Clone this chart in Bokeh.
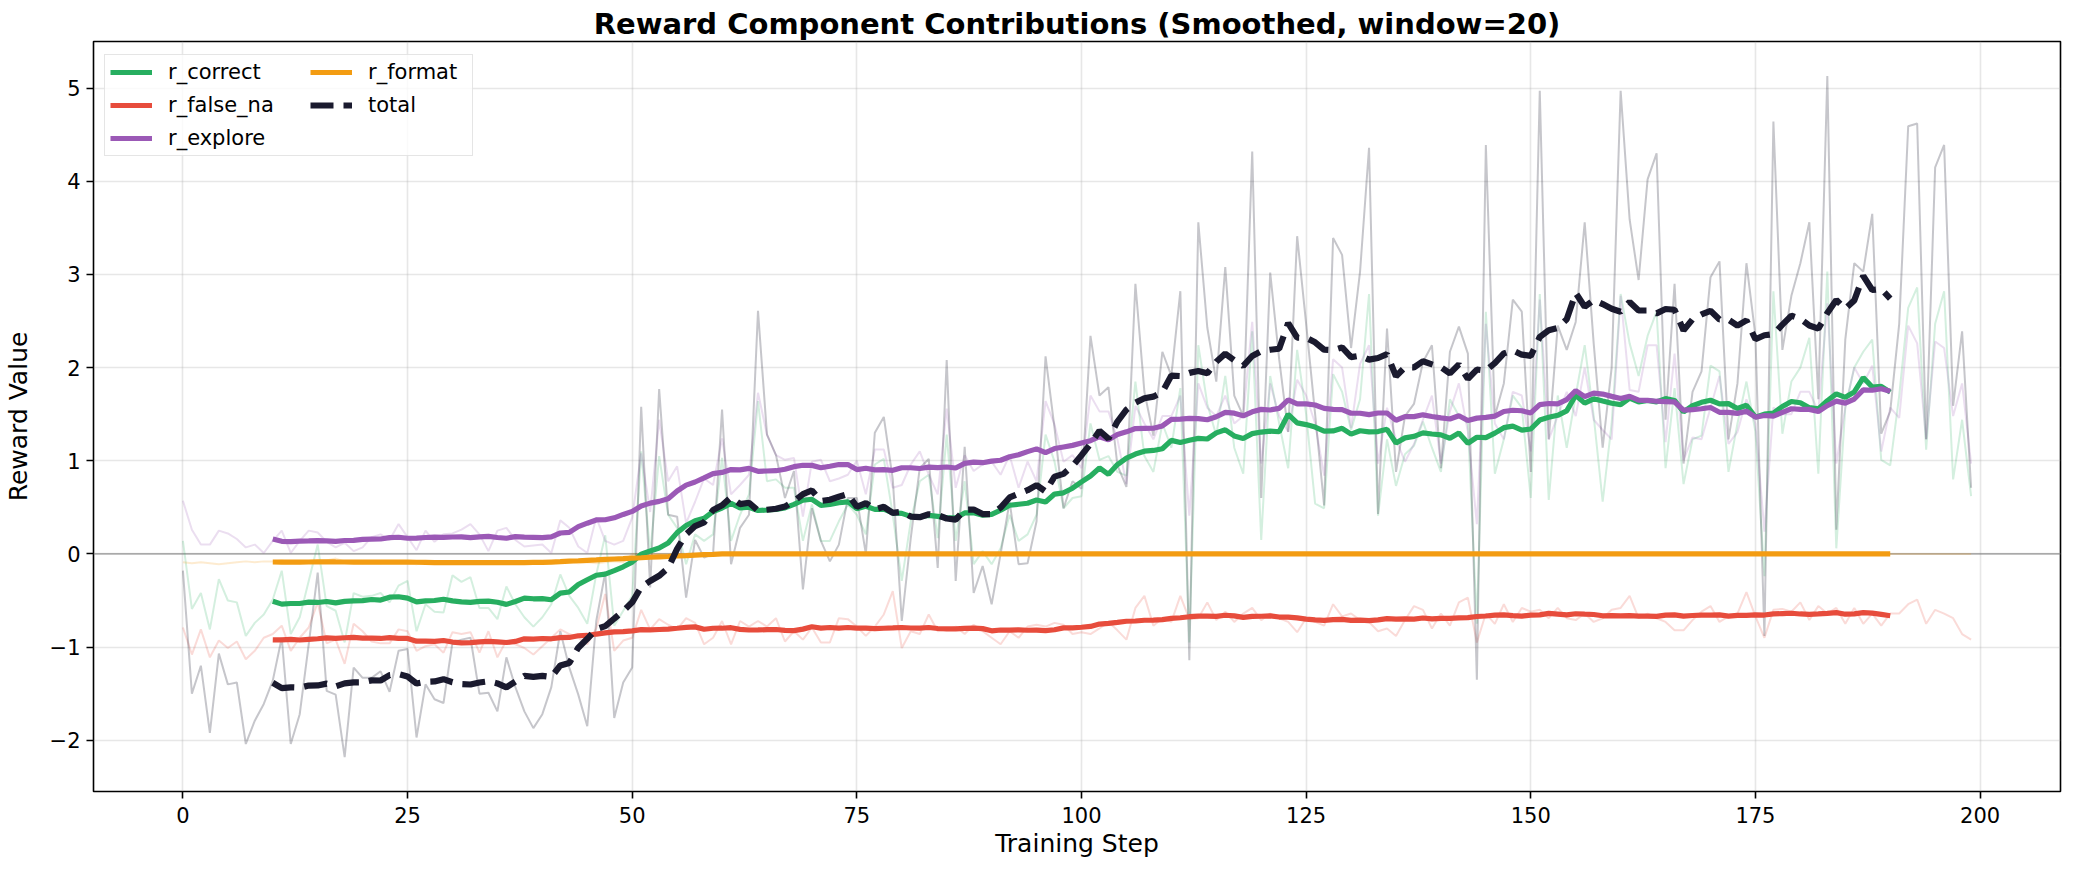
import numpy as np
from bokeh.plotting import figure
from bokeh.models import (Span, Legend, LegendItem, FixedTicker, CustomJSTickFormatter, Range1d, Title)
from bokeh.embed import file_html
from bokeh.resources import INLINE

# ---------------- data ----------------
steps = list(range(200))
WINDOW = 20

r_correct = [
    0.14, -0.59, -0.42, -0.81, -0.27, -0.5, -0.52, -0.88, -0.74, -0.65,
    -0.49, -0.18, -0.86, -0.68, -0.29, 0.1, -0.56, -0.61, -0.95, -0.42,
    -0.46, -0.45, -0.42, -0.52, -0.34, -0.29, -0.83, -0.54, -0.62, -0.63,
    -0.23, -0.3, -0.25, -0.58, -0.58, -0.7, -0.35, -0.54, -0.68, -0.78,
    -0.68, -0.54, -0.22, -0.45, -0.58, -0.75, -0.22, 0.2, -0.77, -0.61,
    -0.45, 1.1, 0.0, 1.05, 0.42, 0.28, -0.11, 0.21, 0.14, 0.21,
    1.03, 0.14, 0.42, 0.64, 1.64, 0.78, 0.8, 0.71, 0.71, 0.14,
    0.53, 0.14, 0.14, 0.35, 0.53, 0.42, 0.21, 0.96, 1.02, 0.42,
    -0.29, 0.35, 0.78, 0.85, 0.17, 1.28, 0.14, 0.78, -0.11, 0.03,
    -0.11, 0.06, 0.42, 0.14, 0.21, 0.42, 1.28, 0.99, 0.49, 0.6,
    0.62, 1.4, 1.01, 1.05, 0.88, 0.84, 1.85, 1.05, 0.88, 1.4,
    1.14, 1.78, -0.95, 2.24, 1.61, 1.27, 1.91, 1.14, 0.86, 2.39,
    0.15, 1.91, 1.4, 0.92, 2.19, 1.5, 0.54, 0.49, 1.93, 1.74,
    1.33, 1.66, 2.79, 0.41, 1.23, 0.73, 1.07, 1.16, 1.42, 1.14,
    0.88, 1.66, 1.48, 1.4, -0.75, 2.6, 0.86, 1.23, 1.7, 1.57,
    0.6, 2.79, 0.58, 1.7, 1.14, 1.7, 2.24, 1.48, 0.56, 1.4,
    2.79, 2.26, 1.91, 2.34, 2.6, 0.92, 1.78, 0.75, 1.23, 1.27,
    2.02, 1.96, 0.88, 1.4, 1.85, 1.31, -0.24, 2.82, 1.29, 1.85,
    2.0, 2.32, 0.86, 3.03, 0.06, 1.57, 2.0, 2.17, 2.3, 1.01,
    0.95, 1.7, 2.64, 2.86, 1.12, 2.47, 2.82, 0.8, 1.44, 0.62,
]

r_false_na = [
    -0.79, -1.08, -0.81, -1.11, -0.93, -1.01, -0.94, -1.13, -1.04, -0.9,
    -0.86, -0.77, -1.04, -0.9, -0.79, -0.52, -0.96, -0.92, -1.18, -0.75,
    -0.83, -0.94, -0.96, -0.96, -0.81, -0.83, -1.04, -0.99, -0.97, -1.06,
    -0.84, -0.86, -0.84, -1.06, -0.83, -1.11, -0.93, -0.97, -1.01, -1.08,
    -0.99, -0.9, -0.81, -0.86, -0.9, -0.97, -0.8, -0.43, -1.04, -0.93,
    -0.9, -0.6, -0.81, -0.7, -0.76, -0.81, -0.69, -0.74, -0.97, -0.9,
    -0.72, -0.97, -0.72, -0.78, -0.72, -0.78, -0.69, -0.94, -0.83, -0.92,
    -0.79, -0.95, -0.95, -0.69, -0.7, -0.78, -0.88, -0.78, -0.65, -0.4,
    -1.01, -0.83, -0.86, -0.65, -0.83, -0.81, -0.78, -0.86, -0.76, -0.83,
    -0.9, -0.97, -0.83, -0.9, -0.78, -0.76, -0.78, -0.74, -0.76, -0.86,
    -0.84, -0.86, -0.8, -0.73, -0.82, -0.92, -0.58, -0.45, -0.77, -0.69,
    -0.73, -0.45, -0.7, -0.69, -0.52, -0.71, -0.62, -0.73, -0.64, -0.58,
    -0.71, -0.64, -0.69, -0.73, -0.84, -0.69, -0.73, -0.77, -0.54, -0.67,
    -0.64, -0.71, -0.73, -0.83, -0.8, -0.88, -0.71, -0.56, -0.6, -0.8,
    -0.64, -0.77, -0.52, -0.47, -0.95, -0.64, -0.75, -0.54, -0.73, -0.58,
    -0.62, -0.6, -0.69, -0.58, -0.69, -0.71, -0.64, -0.73, -0.69, -0.6,
    -0.58, -0.45, -0.69, -0.64, -0.69, -0.73, -0.82, -0.82, -0.71, -0.62,
    -0.56, -0.73, -0.67, -0.64, -0.41, -0.67, -0.9, -0.6, -0.59, -0.62,
    -0.52, -0.71, -0.56, -0.64, -0.58, -0.75, -0.58, -0.75, -0.64, -0.77,
    -0.64, -0.64, -0.54, -0.49, -0.75, -0.6, -0.64, -0.69, -0.86, -0.92,
]

r_explore = [
    0.57, 0.26, 0.1, 0.1, 0.25, 0.22, 0.16, 0.07, 0.1, 0.01,
    0.14, 0.25, 0.01, 0.14, 0.25, 0.23, 0.13, 0.07, 0.12, 0.03,
    0.07, 0.18, 0.21, 0.15, 0.32, 0.18, 0.04, 0.25, 0.13, 0.21,
    0.22, 0.26, 0.32, 0.21, 0.03, 0.25, 0.28, 0.15, 0.08, 0.09,
    0.1, 0.01, 0.36, 0.28, 0.08, 0.01, 0.39, 0.14, 0.1, 0.14,
    0.39, 1.08, 0.45, 1.44, 0.78, 0.94, 0.33, 0.56, 0.81, 0.74,
    1.24, 0.64, 0.74, 0.85, 1.73, 1.28, 1.06, 1.01, 1.03, 0.4,
    0.99, 1.01, 0.78, 0.81, 0.85, 1.0, 0.64, 1.12, 1.12, 0.71,
    0.74, 0.96, 1.1, 0.85, 0.64, 1.56, 0.71, 1.06, 0.89, 0.96,
    0.99, 0.85, 1.06, 0.71, 0.99, 0.78, 1.64, 1.39, 0.99, 1.06,
    0.92, 1.7, 1.53, 1.53, 1.23, 0.75, 1.59, 1.4, 1.23, 1.48,
    1.48, 1.7, 0.41, 1.83, 1.57, 1.48, 1.7, 1.4, 1.48, 2.49,
    0.97, 1.83, 1.48, 1.31, 1.87, 1.7, 1.4, 0.84, 2.09, 2.0,
    1.35, 2.04, 2.24, 0.97, 1.57, 1.23, 0.99, 1.18, 1.44, 1.7,
    0.97, 1.53, 1.83, 1.31, 0.32, 2.47, 1.4, 1.23, 1.74, 1.7,
    1.1, 2.73, 1.23, 1.48, 1.74, 1.48, 2.0, 1.44, 1.33, 1.23,
    2.77, 1.76, 1.74, 2.24, 2.24, 1.2, 2.15, 1.01, 1.25, 1.23,
    1.57, 1.91, 1.18, 1.31, 1.66, 1.4, 0.24, 1.57, 1.5, 1.5,
    1.74, 1.74, 1.53, 2.69, 0.97, 1.57, 2.0, 1.83, 2.02, 1.1,
    1.57, 1.46, 2.45, 2.26, 1.23, 2.28, 2.21, 1.48, 1.83, 0.97,
]

r_format = [
    -0.09, -0.1, -0.09, -0.1, -0.11, -0.1, -0.09, -0.08, -0.09, -0.08,
    -0.08, -0.07, -0.09, -0.1, -0.09, -0.08, -0.07, -0.05, -0.08, -0.09,
    -0.1, -0.09, -0.1, -0.09, -0.08, -0.1, -0.11, -0.09, -0.1, -0.09,
    -0.09, -0.08, -0.1, -0.09, -0.1, -0.09, -0.1, -0.09, -0.08, -0.1,
    -0.09, -0.1, -0.09, -0.08, -0.1, -0.09, -0.1, -0.09, -0.08, -0.09,
    0, 0, 0, 0, 0, 0, 0, 0, 0, 0, 0, 0, 0, 0, 0, 0, 0, 0, 0, 0, 0, 0, 0, 0, 0,
    0, 0, 0, 0, 0, 0, 0, 0, 0, 0, 0, 0, 0, 0, 0, 0, 0, 0, 0, 0, 0, 0, 0, 0, 0,
    0, 0, 0, 0, 0, 0, 0, 0, 0, 0, 0, 0, 0, 0, 0, 0, 0, 0, 0, 0, 0, 0, 0, 0, 0,
    0, 0, 0, 0, 0, 0, 0, 0, 0, 0, 0, 0, 0, 0, 0, 0, 0, 0, 0, 0, 0, 0, 0, 0, 0,
    0, 0, 0, 0, 0, 0, 0, 0, 0, 0, 0, 0, 0, 0, 0, 0, 0, 0, 0, 0, 0, 0, 0, 0, 0,
    0, 0, 0, 0, 0, 0, 0, 0, 0, 0, 0, 0, 0, 0, 0, 0, 0, 0, 0, 0, 0, 0, 0, 0, 0,
]

total = [
    -0.18, -1.5, -1.2, -1.92, -1.07, -1.4, -1.38, -2.04, -1.79, -1.61,
    -1.36, -0.9, -2.04, -1.72, -0.97, -0.2, -1.47, -1.51, -2.18, -1.22,
    -1.33, -1.33, -1.26, -1.48, -1.04, -1.02, -1.97, -1.4, -1.56, -1.6,
    -0.95, -0.92, -0.9, -1.5, -1.49, -1.69, -1.11, -1.43, -1.69, -1.87,
    -1.72, -1.43, -0.83, -1.22, -1.51, -1.85, -0.72, -0.2, -1.76, -1.38,
    -1.22, 1.58, -0.36, 1.77, 0.42, 0.4, -0.47, 0.15, -0.04, 0.0,
    1.55, -0.11, 0.28, 0.42, 2.61, 1.28, 1.06, 0.6, 0.89, -0.38,
    0.49, 0.14, -0.08, 0.1, 0.6, 0.6, 0.0, 1.3, 1.47, 0.8,
    -0.72, 0.17, 0.92, 1.02, -0.15, 2.08, -0.29, 1.15, -0.42, -0.13,
    -0.54, 0.0, 0.56, -0.11, -0.1, 0.35, 2.12, 1.35, 0.49, 0.78,
    0.7, 2.34, 1.7, 1.79, 0.95, 0.72, 2.9, 1.74, 1.27, 2.17,
    1.91, 2.82, -1.14, 3.56, 2.43, 1.85, 3.08, 1.7, 1.48, 4.32,
    0.6, 3.02, 2.09, 1.31, 3.41, 2.47, 1.5, 0.52, 3.39, 3.21,
    2.21, 3.03, 4.36, 0.43, 2.42, 0.88, 1.48, 1.61, 2.06, 2.24,
    0.92, 2.17, 2.44, 2.15, -1.35, 4.39, 1.48, 1.83, 2.73, 2.6,
    0.88, 4.97, 1.23, 2.45, 2.19, 2.49, 3.56, 2.26, 1.14, 2.0,
    4.97, 3.59, 2.94, 4.02, 4.3, 1.44, 2.9, 0.97, 1.74, 1.96,
    2.97, 3.14, 1.23, 1.83, 3.12, 2.34, -0.88, 4.64, 2.19, 2.77,
    3.12, 3.56, 1.66, 5.13, 0.26, 2.3, 3.12, 3.03, 3.65, 1.29,
    1.53, 2.47, 4.59, 4.62, 1.23, 4.15, 4.39, 1.59, 2.39, 0.71,
]

series_names = ["r_correct", "r_false_na", "r_explore", "r_format", "total"]
series_colors = ["#27ae60", "#e74c3c", "#9b59b6", "#f39c12", "#1a1a2e"]
x_ticks = [0, 25, 50, 75, 100, 125, 150, 175, 200]
y_ticks = [-2, -1, 0, 1, 2, 3, 4, 5]

FONT = "DejaVu Sans"
W, H = 2068, 866
BL, BR, BT, BB = 85, 8, 41, 75

# ---------------- figure ----------------
p = figure(width=W, height=H, output_backend="svg", toolbar_location=None,
           x_range=Range1d(-9.95, 208.95), y_range=Range1d(-2.55, 5.5),
           min_border_left=BL, min_border_right=BR, min_border_top=BT, min_border_bottom=BB)

p.title.text = "Reward Component Contributions (Smoothed, window=20)"
p.title.text_font = FONT
p.title.text_font_size = "29px"
p.title.text_font_style = "bold"
p.title.align = "center"
p.title.text_color = "black"
p.title.standoff = 2

p.outline_line_color = "black"
p.outline_line_width = 1.6
p.background_fill_color = "white"

for ax in (p.xaxis[0], p.yaxis[0]):
    ax.axis_line_color = None
    ax.major_tick_line_color = "black"
    ax.major_tick_line_width = 1.6
    ax.major_tick_out = 7
    ax.major_tick_in = 0
    ax.minor_tick_line_color = None
    ax.major_label_text_font = FONT
    ax.major_label_text_font_size = "21px"
    ax.major_label_text_color = "black"
    ax.major_label_text_line_height = 1.0
    ax.axis_label_text_font = FONT
    ax.axis_label_text_font_size = "25px"
    ax.axis_label_text_font_style = "normal"
    ax.axis_label_text_color = "black"
    ax.axis_label_text_line_height = 1.0
    ax.formatter = CustomJSTickFormatter(code="return tick.toString().replace('-', '\u2212');")

p.xaxis[0].ticker = FixedTicker(ticks=x_ticks)
p.yaxis[0].ticker = FixedTicker(ticks=y_ticks)
p.yaxis[0].axis_label = "Reward Value"
p.xaxis[0].major_label_standoff = 8
p.yaxis[0].major_label_standoff = 6
p.yaxis[0].axis_label_standoff = 14

# x-axis title placed as a compact title panel below the axis
x_title = Title(text="Training Step", align="center", text_font=FONT, text_font_size="25px",
                text_font_style="normal", text_color="black", standoff=2)
p.add_layout(x_title, "below")

p.grid.grid_line_color = "#b0b0b0"
p.grid.grid_line_alpha = 0.3
p.grid.grid_line_width = 1.6

zero_line = Span(location=0, dimension="width", line_color="gray", line_alpha=0.6,
                 line_width=1.7, level="underlay")
p.add_layout(zero_line)

raw_series = [r_correct, r_false_na, r_explore, r_format, total]

# raw (faint) lines
for vals, col, name in zip(raw_series, series_colors, series_names):
    alpha = 0.25 if name == "total" else 0.2
    p.line(steps, vals, line_color=col, line_alpha=alpha, line_width=2)

# smoothed lines (moving average, window=20)
kernel = np.ones(WINDOW) / WINDOW
half = WINDOW // 2
items = []
for vals, col, name in zip(raw_series, series_colors, series_names):
    sm = np.convolve(np.asarray(vals, dtype=float), kernel, mode="valid")
    xs = steps[half:half + len(sm)]
    if name == "total":
        r = p.line(xs, sm, line_color=col, line_width=6.2, line_dash="23 10")
    else:
        r = p.line(xs, sm, line_color=col, line_width=5.2)
    items.append(LegendItem(label=name, renderers=[r]))

# an empty, invisible renderer so that the second legend column has three rows too
blank = p.line([], [], line_alpha=0.0)
items.append(LegendItem(label=" ", renderers=[blank]))

PAD, SPACING = 5, 9
common = dict(label_text_font=FONT, label_text_font_size="21px", label_text_color="black",
              glyph_width=42, glyph_height=22, label_standoff=16, spacing=SPACING, padding=PAD)

# first column (carries the frame of the whole legend box)
legend1 = Legend(items=items[:3], location=(11, 635), margin=0, label_width=299,
                 background_fill_color="white", background_fill_alpha=0.8,
                 border_line_color="#cccccc", border_line_width=1.6, **common)
# second column
legend2 = Legend(items=items[3:], location=(217, 643), margin=0,
                 background_fill_alpha=0.0, border_line_color=None, **common)
p.add_layout(legend1)
p.add_layout(legend2)

open("out.html", "w").write(file_html(p, INLINE))
